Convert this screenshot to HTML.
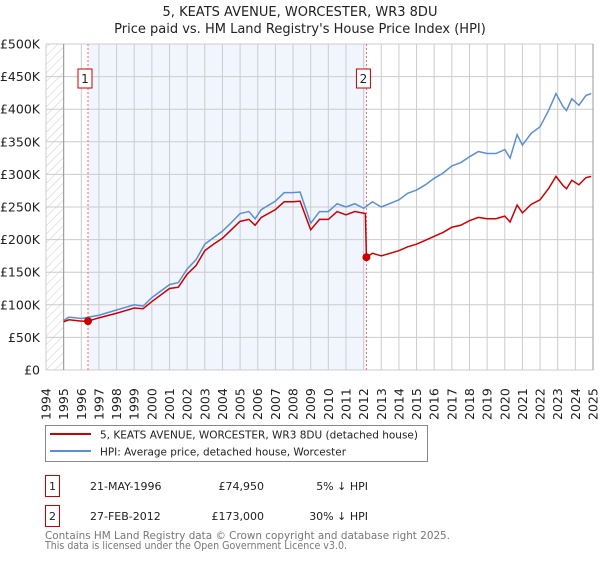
<!DOCTYPE html>
<html><head><meta charset="utf-8"><style>
body{margin:0;background:#fff;font-family:"Liberation Sans","DejaVu Sans",sans-serif;}
svg text{font-family:"DejaVu Sans","Liberation Sans",sans-serif;}
</style></head><body>
<svg id="chart" width="600" height="560" viewBox="0 0 600 560">
<defs><pattern id="hatch" width="6" height="6" patternUnits="userSpaceOnUse" patternTransform="rotate(45)"><line x1="0" y1="0" x2="0" y2="6" stroke="#ccc" stroke-width="1"/></pattern></defs>
<text x="300" y="16" text-anchor="middle" font-size="13" fill="#222">5, KEATS AVENUE, WORCESTER, WR3 8DU</text>
<text x="300" y="33" text-anchor="middle" font-size="13" fill="#222">Price paid vs. HM Land Registry's House Price Index (HPI)</text>
<g id="grid"></g><g id="marks"></g><g id="axes"></g>
<g>
<rect x="45.5" y="425.5" width="382" height="36" fill="#fff" stroke="#888"/>
<line x1="50" y1="434" x2="91" y2="434" stroke="#cc0000" stroke-width="2"/>
<text x="100" y="438.5" font-size="11" textLength="318" lengthAdjust="spacingAndGlyphs" fill="#222">5, KEATS AVENUE, WORCESTER, WR3 8DU (detached house)</text>
<line x1="50" y1="451" x2="91" y2="451" stroke="#5b8fd4" stroke-width="2"/>
<text x="100" y="455.5" font-size="11" textLength="246" lengthAdjust="spacingAndGlyphs" fill="#222">HPI: Average price, detached house, Worcester</text>
</g>
<g font-size="11" fill="#222">
<rect x="45.5" y="475.5" width="14" height="21" fill="none" stroke="#cc0000"/><text x="52.5" y="490" text-anchor="middle">1</text>
<text x="90" y="490">21-MAY-1996</text><text x="264" y="490" text-anchor="end">£74,950</text><text x="368" y="490" text-anchor="end">5% ↓ HPI</text>
<rect x="45.5" y="505.5" width="14" height="21" fill="none" stroke="#cc0000"/><text x="52.5" y="520" text-anchor="middle">2</text>
<text x="90" y="520">27-FEB-2012</text><text x="264" y="520" text-anchor="end">£173,000</text><text x="368" y="520" text-anchor="end">30% ↓ HPI</text>
</g>
<text x="45" y="539" font-size="11" textLength="405" lengthAdjust="spacingAndGlyphs" fill="#777">Contains HM Land Registry data © Crown copyright and database right 2025.</text>
<text x="45" y="549" font-size="11" textLength="302" lengthAdjust="spacingAndGlyphs" fill="#777">This data is licensed under the Open Government Licence v3.0.</text>
</svg>
<script>
const hpiYears=[1995.0,1995.3,1996.0,1997,1998,1999,1999.5,2000,2001,2001.5,2002,2002.5,2003,2003.5,2004,2004.5,2005,2005.5,2005.85,2006.2,2007,2007.5,2008,2008.4,2009,2009.5,2010,2010.5,2011,2011.5,2012,2012.5,2013,2014,2014.5,2015,2015.5,2016,2016.5,2017,2017.5,2018,2018.5,2019,2019.5,2020,2020.3,2020.7,2021,2021.5,2022,2022.5,2022.9,2023.3,2023.5,2023.8,2024.2,2024.6,2024.9];
const hpiValues=[76,81,79,84,92,100,98,111,131,134,155,169,193,203,213,226,240,243,232,246,259,272,272,273,225,243,243,255,250,255,248,258,250,261,271,276,284,294,302,313,318,327,335,332,332,338,325,361,345,363,373,399,424,404,398,416,406,421,424];
const ppYears=[1995.0,1995.3,1996.0,1996.38,1997,1998,1999,1999.5,2000,2001,2001.5,2002,2002.5,2003,2003.5,2004,2004.5,2005,2005.5,2005.85,2006.2,2007,2007.5,2008,2008.4,2009,2009.5,2010,2010.5,2011,2011.5,2012.1,2012.16,2012.5,2013,2014,2014.5,2015,2015.5,2016,2016.5,2017,2017.5,2018,2018.5,2019,2019.5,2020,2020.3,2020.7,2021,2021.5,2022,2022.5,2022.9,2023.3,2023.5,2023.8,2024.2,2024.6,2024.9];
const ppValues=[74,77,75,74.95,80,87,95,94,105,125,127,147,160,183,193,202,215,228,231,222,234,246,258,258,259,215,231,231,243,238,243,240,173,179,175,183,189,193,199,205,211,219,222,229,234,232,232,236,227,253,241,254,261,279,297,283,278,291,284,295,297];
const saleYears=[1996.38,2012.16];
const saleValues=[74.95,173];
const saleLabels=["1","2"];
const yTicks=[0,50,100,150,200,250,300,350,400,450,500];
const yTickLabels=["£0","£50K","£100K","£150K","£200K","£250K","£300K","£350K","£400K","£450K","£500K"];
const xTicks=[];for(let y=1994;y<=2025;y++)xTicks.push(y);
const X0=46,X1=593,Y0=370,Y1=44;
const xs=y=>X0+(y-1994)/(2025-1994)*(X1-X0);
const ys=v=>Y0-v/500*(Y0-Y1);
const NS="http://www.w3.org/2000/svg";
function mk(t,a,p){const e=document.createElementNS(NS,t);for(const k in a)e.setAttribute(k,a[k]);p.appendChild(e);return e;}
const grid=document.getElementById('grid'),marks=document.getElementById('marks'),axes=document.getElementById('axes');
mk('rect',{x:X0,y:Y1,width:xs(1995)-X0,height:Y0-Y1,fill:'url(#hatch)'},grid);
const band=mk('rect',{x:xs(saleYears[0]),y:Y1,width:xs(saleYears[1])-xs(saleYears[0]),height:Y0-Y1,fill:'#eef3fd',opacity:0.8},grid);


xTicks.forEach(y=>{mk('line',{x1:xs(y),x2:xs(y),y1:Y1,y2:Y0,stroke:'#ccc','stroke-width':1},grid);
 const t=mk('text',{x:0,y:0,transform:`translate(${xs(y)+4.5},${Y0+50}) rotate(-90)`,'font-size':12.5,fill:'#222'},axes);t.textContent=y;
 
 });
yTicks.forEach((v,i)=>{mk('line',{x1:X0,x2:X1,y1:ys(v),y2:ys(v),stroke:'#ccc','stroke-width':1},grid);
 const t=mk('text',{x:40,y:ys(v)+4.5,'text-anchor':'end','font-size':12.5,fill:'#222'},axes);t.textContent=yTickLabels[i];
 
 });
mk('line',{x1:xs(1995),x2:xs(1995),y1:Y1,y2:Y0,stroke:'#999'},grid);
mk('line',{x1:X1,x2:X1,y1:Y1,y2:Y0,stroke:'#999'},grid);
saleYears.forEach((y,i)=>{const l=mk('line',{x1:xs(y),x2:xs(y),y1:Y1,y2:Y0,stroke:'#ff6666','stroke-dasharray':'2,2','stroke-width':1},marks);
 
 
 const r=mk('rect',{x:xs(y)-10,y:69,width:14,height:19,fill:'#fff',stroke:'#cc0000'},marks);
 
 
 const t=mk('text',{x:xs(y)-3,y:83,'text-anchor':'middle','font-size':12,fill:'#222'},marks);t.textContent=saleLabels[i];});
const hp=mk('polyline',{points:hpiYears.map((y,i)=>xs(y)+','+ys(hpiValues[i])).join(' '),fill:'none',stroke:'#5b8fd4','stroke-width':1.5},marks);


const pp=mk('polyline',{points:ppYears.map((y,i)=>xs(y)+','+ys(ppValues[i])).join(' '),fill:'none',stroke:'#cc0000','stroke-width':1.5},marks);


saleYears.forEach((y,i)=>{const c=mk('circle',{cx:xs(y),cy:ys(saleValues[i]),r:4,fill:'#cc0000'},marks);
 
 });
</script>
</body></html>
